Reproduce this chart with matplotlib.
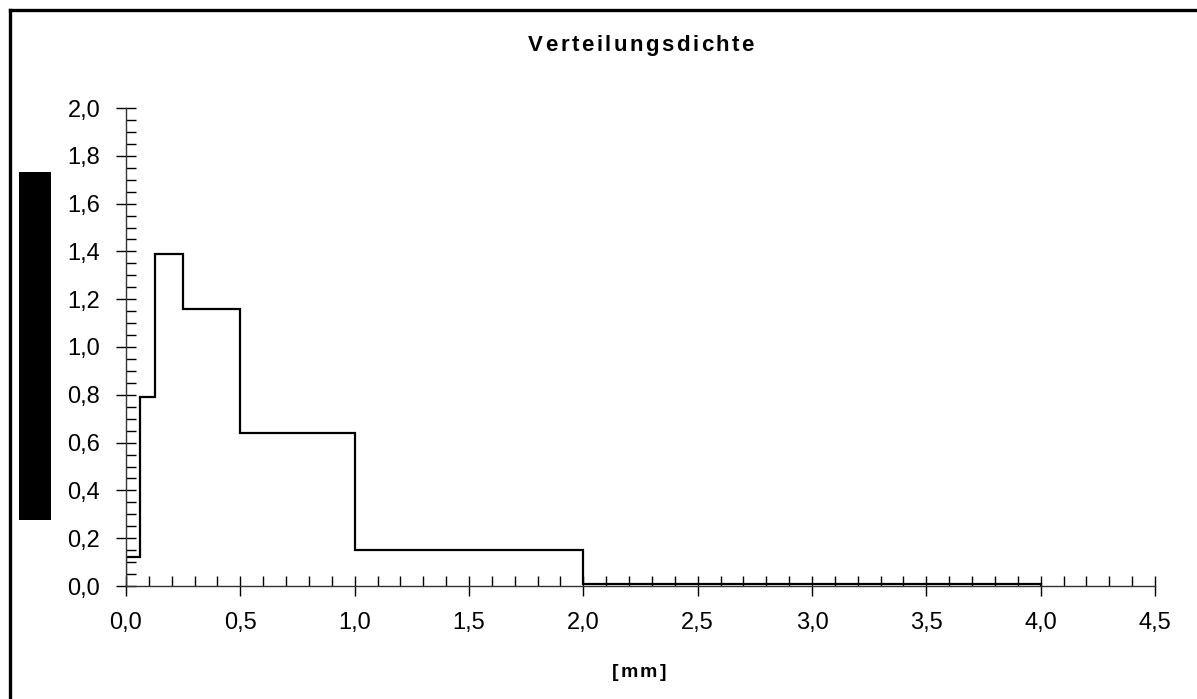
import matplotlib
matplotlib.use("Agg")
import matplotlib.pyplot as plt
from matplotlib.ticker import MultipleLocator, FuncFormatter
from matplotlib.patches import Rectangle
from matplotlib.lines import Line2D

# Class edges [mm] and distribution density per class
class_edges = [0.0, 0.063, 0.125, 0.25, 0.5, 1.0, 2.0, 4.0]
density = [0.12, 0.79, 1.39, 1.16, 0.64, 0.15, 0.01]

title = "Verteilungsdichte"
x_label = "[mm]"

plt.rcParams['font.family'] = ['Liberation Sans', 'DejaVu Sans']

W, H = 1197, 699
fig = plt.figure(figsize=(W / 100, H / 100), dpi=100)
renderer = fig.canvas.get_renderer()


def tracked_text(s, cx, base_y, size, spacing):
    """Draw bold text centred at pixel x, on baseline base_y, with letter spacing."""
    artists, widths = [], []
    for c in s:
        t = fig.text(0, 1 - base_y / H, c, ha='left', va='baseline',
                     fontsize=size, fontweight='bold')
        artists.append(t)
        widths.append(t.get_window_extent(renderer).width)
    total = sum(widths) + spacing * (len(s) - 1)
    x = cx - total / 2
    for t, w in zip(artists, widths):
        t.set_x(x / W)
        x += w + spacing


ax = fig.add_axes([126 / W, 1 - 586 / H, (1155 - 126) / W, (586 - 108) / H])
ax.stairs(density, class_edges, baseline=0, fill=False, color='black', linewidth=1.6)

ax.set_xlim(0, 4.5)
ax.set_ylim(0, 2.0)
for side in ('top', 'right'):
    ax.spines[side].set_visible(False)
for side in ('left', 'bottom'):
    ax.spines[side].set_linewidth(1.0)
    ax.spines[side].set_color('#333333')

ax.xaxis.set_major_locator(MultipleLocator(0.5))
ax.xaxis.set_minor_locator(MultipleLocator(0.1))
ax.yaxis.set_major_locator(MultipleLocator(0.2))
ax.yaxis.set_minor_locator(MultipleLocator(0.05))
comma = FuncFormatter(lambda v, p: f"{v:.1f}".replace('.', ','))
ax.xaxis.set_major_formatter(comma)
ax.yaxis.set_major_formatter(comma)

ax.tick_params(which='major', direction='inout', length=15, width=1.0,
               colors='black', labelsize=17)
ax.tick_params(which='minor', direction='in', length=7, width=1.0, colors='black')
ax.tick_params(axis='x', which='major', pad=11)
ax.tick_params(axis='y', which='major', pad=11)

tracked_text(title, 641, 51, 16, 2.5)
tracked_text(x_label, 639, 677, 14, 2.0)

# Black block on the left side
fig.add_artist(Rectangle((19 / W, 1 - 520 / H), 32 / W, 348 / H,
                         transform=fig.transFigure, facecolor='black',
                         edgecolor='none'))

# Outer frame (left and top edges)
fig.add_artist(Line2D([9.5 / W, 9.5 / W], [0, 1 - 9.5 / H], transform=fig.transFigure,
                      color='black', linewidth=2.4))
fig.add_artist(Line2D([9.5 / W, 1], [1 - 9.5 / H, 1 - 9.5 / H], transform=fig.transFigure,
                      color='black', linewidth=2.4))

fig.savefig("out.png", dpi=100, facecolor='white')
